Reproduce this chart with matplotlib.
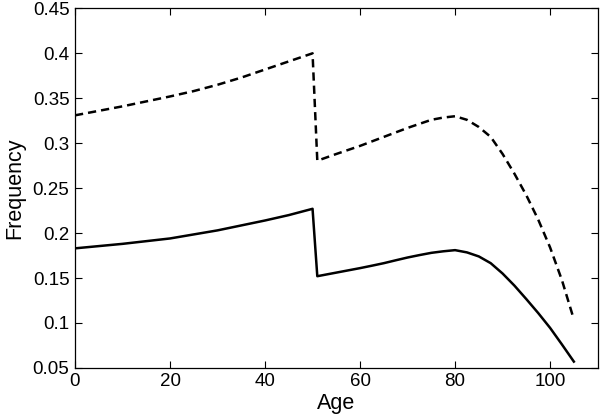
import matplotlib
matplotlib.use("Agg")
import matplotlib.pyplot as plt

plt.rcParams['font.family'] = ['Liberation Sans', 'DejaVu Sans']

# Data
age = [0, 5, 10, 15, 20, 25, 30, 35, 40, 45, 50,
       51, 55, 57.5, 60, 62.5, 65, 67.5, 70, 72.5, 75, 77.5, 80,
       82.5, 85, 87.5, 90, 92.5, 95, 97.5, 100, 102.5, 105]
freq_dashed = [0.331, 0.336, 0.341, 0.3465, 0.352, 0.358, 0.365, 0.373, 0.382, 0.391, 0.400,
               0.2805, 0.288, 0.2925, 0.297, 0.302, 0.307, 0.312, 0.317, 0.3215, 0.326, 0.3285, 0.330,
               0.326, 0.318, 0.307, 0.288, 0.266, 0.242, 0.215, 0.184, 0.1475, 0.104]
freq_solid = [0.183, 0.1855, 0.188, 0.191, 0.194, 0.1985, 0.203, 0.2085, 0.214, 0.220, 0.227,
              0.152, 0.156, 0.1585, 0.161, 0.1637, 0.1665, 0.1697, 0.1728, 0.1755, 0.178, 0.1797, 0.181,
              0.1785, 0.174, 0.1665, 0.155, 0.1415, 0.1265, 0.111, 0.0945, 0.076, 0.057]

x_ticks = [0, 20, 40, 60, 80, 100]
y_ticks = [0.05, 0.1, 0.15, 0.2, 0.25, 0.3, 0.35, 0.4, 0.45]
y_tick_labels = ['0.05', '0.1', '0.15', '0.2', '0.25', '0.3', '0.35', '0.4', '0.45']

fig = plt.figure(figsize=(6.0, 4.19), dpi=100)
ax = fig.add_axes([0.125, 0.122, 0.871, 0.858])

ax.plot(age, freq_dashed, color='black', linewidth=1.8, linestyle=(0, (3.3, 2.0)))
ax.plot(age, freq_solid, color='black', linewidth=1.8, linestyle='-')

ax.set_xlim(0, 110)
ax.set_ylim(0.05, 0.45)
ax.set_xticks(x_ticks)
ax.set_yticks(y_ticks)
ax.set_yticklabels(y_tick_labels)

ax.tick_params(direction='in', top=True, right=True, length=5, width=0.8,
               labelsize=13.5, pad=4)
for s in ax.spines.values():
    s.set_linewidth(0.9)

ax.set_xlabel('Age', fontsize=15.5, labelpad=2)
ax.set_ylabel('Frequency', fontsize=15.5, labelpad=5)

fig.savefig('out.png', dpi=100)
